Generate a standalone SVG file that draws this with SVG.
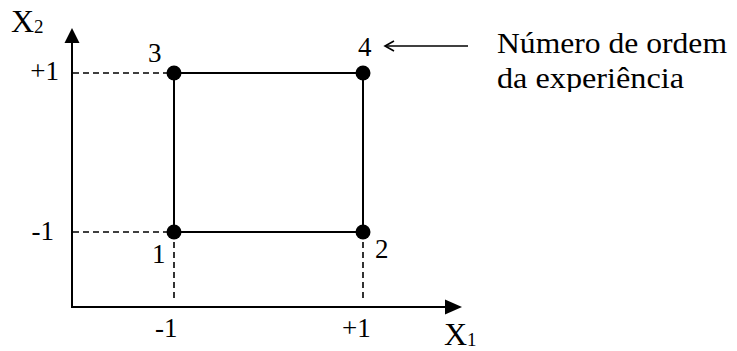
<svg xmlns="http://www.w3.org/2000/svg" width="737" height="351" viewBox="0 0 737 351">
<defs>
<style>
.ax{stroke:#000;stroke-width:2;fill:none}
.sq{stroke:#000;stroke-width:2;fill:none}
.dash{stroke:#000;stroke-width:1.6;stroke-dasharray:6,4;fill:none}
</style>
<clipPath id="clipTxt"><rect x="480" y="0" width="257" height="92"/></clipPath>
</defs>
<rect width="737" height="351" fill="#fff"/>
<g id="connectors">
<line class="ax" x1="72" y1="307" x2="72" y2="42"/>
<polygon points="72,28 64.5,43 79.5,43" fill="#000"/>
<line class="ax" x1="71" y1="307" x2="447" y2="307"/>
<polygon points="462,307 445,299.5 445,314.5" fill="#000"/>
<line class="dash" x1="73" y1="73" x2="174" y2="73"/>
<line class="dash" x1="73" y1="232" x2="174" y2="232"/>
<line class="dash" x1="174" y1="232" x2="174" y2="301"/>
<line class="dash" x1="363" y1="232" x2="363" y2="301"/>
<line class="sq" x1="174" y1="73" x2="363" y2="73"/>
<line class="sq" x1="174" y1="232" x2="363" y2="232"/>
<line class="sq" x1="174" y1="73" x2="174" y2="232"/>
<line class="sq" x1="363" y1="73" x2="363" y2="232"/>
<line x1="385" y1="46" x2="468" y2="46" stroke="#000" stroke-width="1.6"/>
<polyline points="394,41 385,46 394,51" fill="none" stroke="#000" stroke-width="1.6"/>
</g>
<g id="node1"><circle cx="174" cy="232" r="7.5" fill="#000"/><text x="152" y="263" font-family="Liberation Serif" font-size="27">1</text></g>
<g id="node2"><circle cx="363" cy="232" r="7.5" fill="#000"/><text x="375" y="258" font-family="Liberation Serif" font-size="27">2</text></g>
<g id="node3"><circle cx="174" cy="73" r="7.5" fill="#000"/><text x="148" y="62" font-family="Liberation Serif" font-size="27">3</text></g>
<g id="node4"><circle cx="363" cy="73" r="7.5" fill="#000"/><text x="358" y="56" font-family="Liberation Serif" font-size="27">4</text></g>
<g id="axis-labels">
<text x="11" y="32" font-family="Liberation Serif" font-size="32">X<tspan font-size="19" dy="1">2</tspan></text>
<text x="444" y="345" font-family="Liberation Serif" font-size="32">X<tspan font-size="19" dy="1">1</tspan></text>
<text x="59" y="80" font-family="Liberation Serif" font-size="27" text-anchor="end">+1</text>
<text x="54" y="240" font-family="Liberation Serif" font-size="27" text-anchor="end">-1</text>
<text x="155" y="337" font-family="Liberation Serif" font-size="27">-1</text>
<text x="342" y="337" font-family="Liberation Serif" font-size="27">+1</text>
</g>
<g id="note" clip-path="url(#clipTxt)">
<text x="497" y="53" font-family="Liberation Serif" font-size="29" textLength="230" lengthAdjust="spacingAndGlyphs">Número de ordem</text>
<text x="497" y="88" font-family="Liberation Serif" font-size="29" textLength="187" lengthAdjust="spacingAndGlyphs">da experiência</text>
</g>
</svg>
